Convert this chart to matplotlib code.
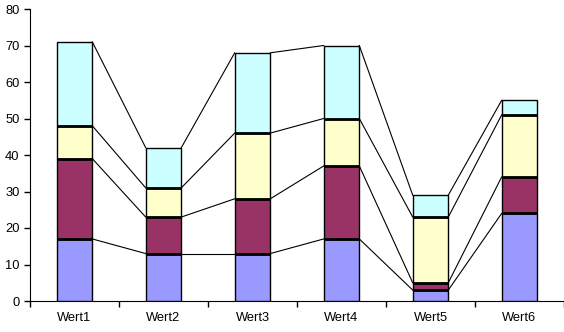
import matplotlib.pyplot as plt
import numpy as np

plt.rcParams['font.family'] = ['Liberation Sans', 'DejaVu Sans']

categories = ['Wert1', 'Wert2', 'Wert3', 'Wert4', 'Wert5', 'Wert6']
series1 = [17, 13, 13, 17, 3, 24]
series2 = [22, 10, 15, 20, 2, 10]
series3 = [9, 8, 18, 13, 18, 17]
series4 = [23, 11, 22, 20, 6, 4]
colors = ['#9999FF', '#993366', '#FFFFCC', '#CCFFFF']

fig = plt.figure(figsize=(5.64, 3.32), dpi=100)
ax = fig.add_axes([30 / 564, 31 / 332, 534 / 564, 292 / 332])

x = np.arange(len(categories))
width = 0.4
bottom = np.zeros(len(categories))
all_series = [series1, series2, series3, series4]
for k, (vals, c) in enumerate(zip(all_series, colors)):
    vals = np.array(vals)
    ax.bar(x, vals, width, bottom=bottom, color=c, edgecolor='black', linewidth=1, zorder=3)
    bottom = bottom + vals
    # bold boundary between stacked segments
    if k < len(all_series) - 1:
        ax.hlines(bottom, x - width / 2, x + width / 2, color='black', linewidth=2, zorder=4)
    # series lines between neighbouring bars
    for i in range(len(x) - 1):
        ax.plot([x[i] + width / 2, x[i + 1] - width / 2], [bottom[i], bottom[i + 1]],
                color='black', linewidth=0.8, zorder=2)

ax.set_xlim(-0.5, len(categories) - 0.5)
ax.set_ylim(0, 80)
ax.set_yticks(range(0, 81, 10))
ax.set_xticks(x)
ax.set_xticklabels(categories)
ax.set_xticks(np.arange(-0.5, len(categories)), minor=True)
ax.tick_params(axis='x', which='major', length=0, pad=8, labelsize=9.3)
ax.tick_params(axis='x', which='minor', length=4, width=1)
ax.tick_params(axis='y', length=4, width=1, labelsize=9.3)
ax.spines['top'].set_visible(False)
ax.spines['right'].set_visible(False)

fig.savefig('out.png', dpi=100)
